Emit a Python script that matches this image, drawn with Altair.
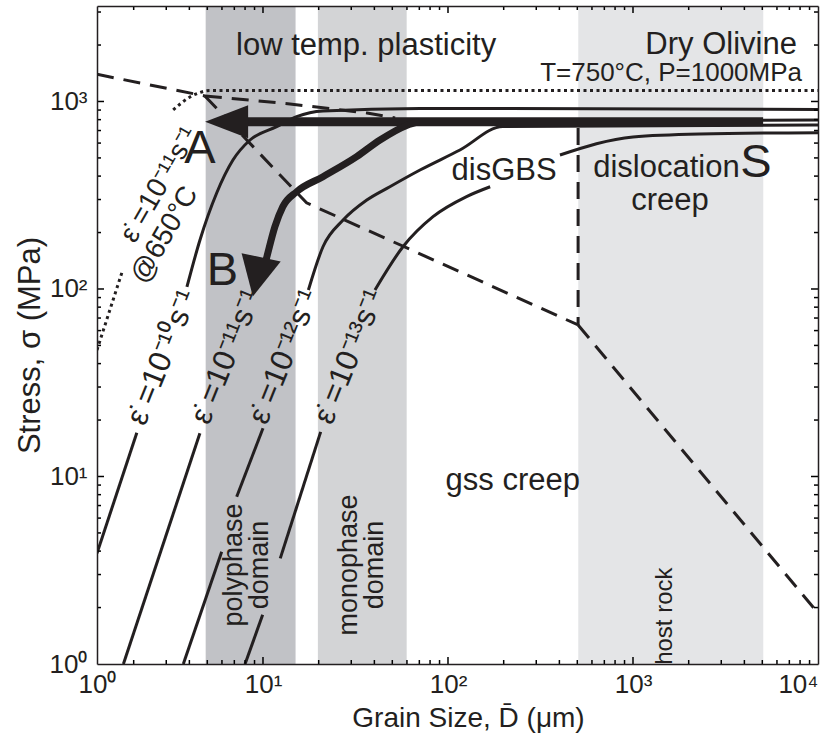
import altair as alt
import pandas as pd

# ---------------- layout / style ----------------
W, H = 721, 658
FONT = "Liberation Sans"
INK = "#231f20"
MAJOR_SIZE, MINOR_SIZE = 49, 16   # symbol sizes -> tick lengths of 7 px and 4 px

# ---------------- axes ----------------
X_MIN, X_MAX = 1.267, 10000.0
Y_MIN, Y_MAX = 1.0, 3230.0
X_LABEL_VALUES = [1.267, 10, 100, 1000, 10000]
Y_LABEL_VALUES = [1, 10, 100, 1000]
X_MAJOR = [10, 100, 1000]
Y_MAJOR = [10, 100, 1000]
X_MINOR = [2, 3, 4, 5, 6, 7, 8, 9, 20, 30, 40, 50, 60, 70, 80, 90,
           200, 300, 400, 500, 600, 700, 800, 900,
           2000, 3000, 4000, 5000, 6000, 7000, 8000, 9000]
Y_MINOR = [2, 3, 4, 5, 6, 7, 8, 9, 20, 30, 40, 50, 60, 70, 80, 90,
           200, 300, 400, 500, 600, 700, 800, 900, 2000, 3000]

# ---------------- shaded grain-size domains ----------------
BAND_NAME = ["polyphase", "monophase", "host rock"]
BAND_D0 = [4.9, 19.8, 506.0]
BAND_D1 = [15.0, 59.8, 5060.0]
BAND_COLOR = ["#c1c2c6", "#d3d4d6", "#e4e5e7"]

# ---------------- strain-rate curves (grain size um, stress MPa) ----------------
E10_1_D = [1.267, 2.08]
E10_1_S = [3.9, 17.1]
E10_2_D = [3.88, 4.56, 5.62, 6.88, 8.51, 11.86, 15.2, 21.1, 70.6, 10000.0]
E10_2_S = [102.5, 182, 325, 487, 623, 734, 830, 890, 918, 906]

E11_1_D = [1.76, 4.56]
E11_1_S = [1.0, 17.0]
E11_2_D = [10.2, 10.5, 11.6, 12.8, 15.2, 21.1, 32.1, 42.9, 59.8, 100, 191, 10000.0]
E11_2_S = [133, 148.7, 215, 275, 330, 397, 508, 623, 745, 778, 787, 797]

E12_1_D = [3.71, 5.98]
E12_1_S = [1.0, 3.97]
E12_2_D = [7.21, 10.0]
E12_2_S = [7.8, 18.1]
E12_3_D = [17.6, 21.1, 27.1, 36.4, 48.5, 70.6, 116, 198, 10000.0]
E12_3_S = [98.8, 168, 233, 298, 351, 431, 551, 736, 750]

E13_1_D = [8.0, 9.96]
E13_1_S = [1.0, 1.83]
E13_2_D = [12.4, 20.5]
E13_2_S = [3.66, 17.3]
E13_3_D = [40.3, 57.1, 83.0, 126, 169]
E13_3_S = [98.8, 168, 243, 311, 351]
E13_4_D = [403, 1000, 2301, 10000.0]
E13_4_S = [518, 647, 671, 682]

# strain rate 1e-11 at 650 C (dotted)
COLD_1_D = [1.267, 1.73]
COLD_1_S = [47.3, 123]
COLD_2_D = [3.27, 4.03, 4.56, 5.17, 10000.0]
COLD_2_S = [901, 1057, 1117, 1145, 1145]

# mechanism boundaries (dashed)
B1_D = [1.267, 4.85]
B1_S = [1396, 1070]
B2_D = [4.85, 14.0, 36.5, 51.8]
B2_S = [1070, 970, 868, 817]
B3_D = [4.85, 17.2, 505]
B3_S = [1070, 288, 64.3]
B4_D = [505, 505]
B4_S = [722, 64.3]
B5_D = [505, 10000.0]
B5_S = [64.3, 1.87]

# thick arrows
ARROW_A_D = [5050, 7.52]
ARROW_A_S = [780, 780]
ARROW_B_D = [10.2, 10.5, 11.6, 12.8, 15.2, 21.1, 32.1, 42.9, 59.8, 70.0]
ARROW_B_S = [133, 148.7, 215, 275, 330, 397, 508, 623, 745, 780]
HEAD_A_D, HEAD_A_S = [6.36], [780]
HEAD_B_D, HEAD_B_S = [9.28], [116]

# ---------------- labels ----------------
REGION_TEXT = ["low temp. plasticity", "disGBS", "dislocation", "creep", "gss creep"]
REGION_D = [36.1, 201, 1517, 1585, 224]
REGION_S = [1770, 381, 397, 264, 8.47]

TITLE_TEXT = ["Dry Olivine"]
TITLE_D, TITLE_S = [7690], [1790]
COND_TEXT = ["T=750°C, P=1000MPa"]
COND_D, COND_S = [8200], [1280]

LETTER_TEXT = ["A", "B", "S"]
LETTER_D = [4.56, 6.04, 4620]
LETTER_S = [470, 105, 396]

DOMAIN_TEXT = ["polyphase\ndomain", "monophase\ndomain"]
DOMAIN_D = [6.97, 29.2]
DOMAIN_S = [3.37, 3.37]
HOST_TEXT = ["host rock"]
HOST_D, HOST_S = [1489], [1.80]

RATE_TEXT = ["ε̇ =10⁻¹⁰s⁻¹", "ε̇ =10⁻¹¹s⁻¹", "ε̇ =10⁻¹²s⁻¹", "ε̇ =10⁻¹³s⁻¹"]
RATE_D = [2.88, 6.39, 13.1, 29.5]
RATE_S = [43.0, 43.4, 43.4, 43.4]

COLD_TEXT = ["ε̇ =10⁻¹¹s⁻¹", "@650°C"]
COLD_D = [2.77, 2.95]
COLD_S = [359, 194]


# ---------------- helpers ----------------
def segs(pairs):
    rows = []
    for k, (ds, ss) in enumerate(pairs):
        for i, (d, s) in enumerate(zip(ds, ss)):
            rows.append({"seg": k, "ord": i, "d": d, "s": s})
    return pd.DataFrame(rows)


xs = alt.Scale(type="log", domain=[X_MIN, X_MAX], nice=False)
ys = alt.Scale(type="log", domain=[Y_MIN, Y_MAX], nice=False)


def X(axis=None, title=None):
    return alt.X("d:Q", scale=xs, axis=axis, title=title)


def Y(axis=None, title=None):
    return alt.Y("s:Q", scale=ys, axis=axis, title=title)


def lines(df, **kw):
    return alt.Chart(df).mark_line(clip=True, color=INK, **kw).encode(
        x=X(), y=Y(), detail="seg:N", order="ord:Q")


def texts(d, s, t, **kw):
    df = pd.DataFrame({"d": d, "s": s, "t": t})
    return alt.Chart(df).mark_text(font=FONT, color=INK, **kw).encode(
        x=X(), y=Y(), text="t:N")


# bands
band_df = pd.DataFrame({"name": BAND_NAME, "d0": BAND_D0, "d1": BAND_D1})
bands = alt.Chart(band_df).mark_rect().encode(
    x=alt.X("d0:Q", scale=xs, axis=None, title=None),
    x2="d1:Q",
    color=alt.Color("name:N", scale=alt.Scale(domain=BAND_NAME, range=BAND_COLOR), legend=None),
)

# label axes (bottom / left) and frame lines (top / right)
ax_df = pd.DataFrame({"d": [X_MIN, X_MAX], "s": [Y_MIN, Y_MAX]})

x_lab = ("datum.value < 2 ? '10⁰' : datum.value < 20 ? '10¹' : datum.value < 200 ? '10²'"
         " : datum.value < 2000 ? '10³' : '10⁴'")
y_lab = ("datum.value < 2 ? '10⁰' : datum.value < 20 ? '10¹' : datum.value < 200 ? '10²' : '10³'")

label_axes = alt.Chart(ax_df).mark_point(opacity=0).encode(
    x=X(alt.Axis(orient="bottom", values=X_LABEL_VALUES, labelExpr=x_lab, ticks=False, tickSize=0,
                 labelPadding=7, labelFontSize=26, labelFont=FONT, labelColor=INK,
                 labelAlign={"condition": {"test": "datum.value > 5000", "value": "right"}, "value": "center"},
                 labelFlush=False, labelOverlap=False, domain=True, domainColor=INK, domainWidth=1.5,
                 grid=False, titleFont=FONT, titleFontSize=28, titleFontWeight="normal", titleColor=INK,
                 titleX=371, titleY=62, titleBaseline="alphabetic", titleAlign="center", zindex=2),
        title="Grain Size, D̄ (μm)"),
    y=Y(alt.Axis(orient="left", values=Y_LABEL_VALUES, labelExpr=y_lab, ticks=False, tickSize=0,
                 labelPadding=10, labelFontSize=26, labelFont=FONT, labelColor=INK,
                 labelOverlap=False, labelFlush=False, domain=True, domainColor=INK, domainWidth=1.5,
                 grid=False, titleFont=FONT, titleFontSize=31, titleFontWeight="normal", titleColor=INK,
                 titleX=-67, titleY=339, titleAngle=270, titleBaseline="middle", titleAlign="center",
                 zindex=2),
        title="Stress, σ (MPa)"),
)

frame = alt.Chart(ax_df).mark_point(opacity=0).encode(
    x=X(alt.Axis(orient="bottom", offset=-H, ticks=False, tickSize=0, labels=False, domain=True,
                 domainColor=INK, domainWidth=1.5, grid=False, zindex=2)),
    y=Y(alt.Axis(orient="left", offset=-W, ticks=False, tickSize=0, labels=False, domain=True,
                 domainColor=INK, domainWidth=1.5, grid=False, zindex=2)),
)

# inward ticks on all four sides: stroke-only symbols anchored on each frame edge
UP, DOWN, RIGHT, LEFT = "M 0 0 L 0 -2", "M 0 0 L 0 2", "M 0 0 L 2 0", "M 0 0 L -2 0"


def edge_ticks(d, s, shape, size):
    return alt.Chart(pd.DataFrame({"d": d, "s": s})).mark_point(
        shape=shape, size=size, filled=False, strokeWidth=1.5, color="#000000", opacity=1
    ).encode(x=X(), y=Y())


tick_layers = [
    edge_ticks(X_MAJOR, [Y_MIN] * len(X_MAJOR), UP, MAJOR_SIZE),
    edge_ticks(X_MINOR, [Y_MIN] * len(X_MINOR), UP, MINOR_SIZE),
    edge_ticks(X_MAJOR, [Y_MAX] * len(X_MAJOR), DOWN, MAJOR_SIZE),
    edge_ticks(X_MINOR, [Y_MAX] * len(X_MINOR), DOWN, MINOR_SIZE),
    edge_ticks([X_MIN] * len(Y_MAJOR), Y_MAJOR, RIGHT, MAJOR_SIZE),
    edge_ticks([X_MIN] * len(Y_MINOR), Y_MINOR, RIGHT, MINOR_SIZE),
    edge_ticks([X_MAX] * len(Y_MAJOR), Y_MAJOR, LEFT, MAJOR_SIZE),
    edge_ticks([X_MAX] * len(Y_MINOR), Y_MINOR, LEFT, MINOR_SIZE),
]

# curves
solid = lines(segs([(E10_1_D, E10_1_S), (E10_2_D, E10_2_S),
                    (E11_1_D, E11_1_S), (E11_2_D, E11_2_S),
                    (E12_1_D, E12_1_S), (E12_2_D, E12_2_S), (E12_3_D, E12_3_S),
                    (E13_1_D, E13_1_S), (E13_2_D, E13_2_S), (E13_3_D, E13_3_S), (E13_4_D, E13_4_S)]),
              strokeWidth=3, interpolate="monotone")
dotted = lines(segs([(COLD_1_D, COLD_1_S), (COLD_2_D, COLD_2_S)]),
               strokeWidth=3, strokeDash=[3, 3.5], interpolate="monotone")
dashed = lines(segs([(B1_D, B1_S), (B2_D, B2_S), (B3_D, B3_S), (B4_D, B4_S), (B5_D, B5_S)]),
               strokeWidth=3, strokeDash=[17, 10])
arrow_a = lines(segs([(ARROW_A_D, ARROW_A_S)]), strokeWidth=9, strokeCap="butt")
arrow_b = lines(segs([(ARROW_B_D, ARROW_B_S)]), strokeWidth=7, strokeCap="butt", interpolate="monotone")

head_a = alt.Chart(pd.DataFrame({"d": HEAD_A_D, "s": HEAD_A_S})).mark_point(
    shape="M -1 0 L 1 -0.77 L 1 0.77 Z", size=1849, filled=True, opacity=1, color=INK, strokeWidth=0
).encode(x=X(), y=Y())
head_b = alt.Chart(pd.DataFrame({"d": HEAD_B_D, "s": HEAD_B_S})).mark_point(
    shape="M 0 1 L -1 -1 L 1 -1 Z", size=1600, filled=True, opacity=1, color=INK, strokeWidth=0, angle=12
).encode(x=X(), y=Y())

# text
t_region = texts(REGION_D, REGION_S, REGION_TEXT, fontSize=31, align="center", baseline="alphabetic")
t_title = texts(TITLE_D, TITLE_S, TITLE_TEXT, fontSize=31, align="right", baseline="alphabetic")
t_cond = texts(COND_D, COND_S, COND_TEXT, fontSize=26, align="right", baseline="alphabetic")
t_letter = texts(LETTER_D, LETTER_S, LETTER_TEXT, fontSize=47, align="center", baseline="alphabetic")
t_domain = texts(DOMAIN_D, DOMAIN_S, DOMAIN_TEXT, fontSize=27, align="center", baseline="middle",
                 angle=270, lineBreak="\n", lineHeight=26)
t_host = texts(HOST_D, HOST_S, HOST_TEXT, fontSize=24, align="center", baseline="middle", angle=270)
t_rate = texts(RATE_D, RATE_S, RATE_TEXT, fontSize=31, align="center", baseline="middle", angle=292)
t_cold = texts(COLD_D, COLD_S, COLD_TEXT, fontSize=28, align="center", baseline="middle", angle=300)

chart = alt.layer(
    bands, label_axes, frame,
    dashed, dotted, solid, arrow_a, arrow_b, head_a, head_b,
    t_region, t_title, t_cond, t_letter, t_domain, t_host, t_rate, t_cold,
    *tick_layers,
).resolve_axis(x="independent", y="independent").properties(
    width=W, height=H,
    autosize=alt.AutoSizeParams(type="none"),
    padding={"left": 97, "top": 6, "right": 4, "bottom": 73},
    background="white",
).configure_view(stroke=None)

chart.save("out.html", embed_options={"renderer": "svg", "actions": False})
